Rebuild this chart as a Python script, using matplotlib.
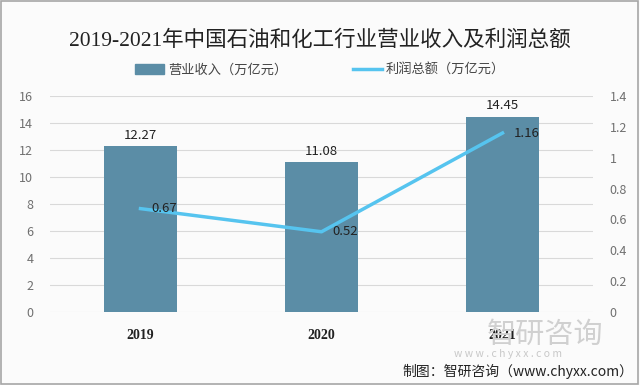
import matplotlib
matplotlib.use("Agg")
from matplotlib import pyplot as plt
from matplotlib.lines import Line2D
from matplotlib.patches import Patch, Rectangle

plt.rcParams['font.family'] = ['Noto Sans CJK SC', 'DejaVu Sans']

years = ['2019', '2020', '2021']
revenue = [12.27, 11.08, 14.45]   # 营业收入（万亿元）
profit = [0.67, 0.52, 1.16]       # 利润总额（万亿元）

bar_color = '#5b8da6'
line_color = '#56c4ef'

fig = plt.figure(figsize=(6.4, 3.85), dpi=100)
fig.patch.set_facecolor('#fbfbfb')
# outer frame
fig.patches.append(Rectangle((0.002, 0.003), 0.995, 0.994, transform=fig.transFigure,
                             fill=False, edgecolor='#a6a6a6', linewidth=1.2))

ax = fig.add_axes([50/640, 1 - 312/385, 543/640, 216/385])
ax.set_facecolor('#fbfbfb')
x = range(len(years))
ax.bar(x, revenue, width=0.4, color=bar_color, zorder=2)
ax.set_ylim(0, 16)
ax.set_xlim(-0.5, 2.5)
ax.set_yticks(range(0, 17, 2))
ax.grid(axis='y', color='#d9d9d9', linewidth=0.8, zorder=0)
ax.set_xticks(list(x))
ax.set_xticklabels(years, fontweight='bold', fontsize=10, color='#222222',
                   family=['Liberation Serif', 'Noto Sans CJK SC'])
ax.tick_params(axis='y', labelsize=9, colors='#707070', length=0, pad=12)
ax.tick_params(axis='x', length=0, pad=12)
for s in ax.spines.values():
    s.set_visible(False)
for i, v in enumerate(revenue):
    ax.text(i, v + 0.35, f'{v:.2f}', ha='center', va='bottom', fontsize=9.5, color='#222222')

ax2 = ax.twinx()
ax2.plot(list(x), profit, color=line_color, linewidth=2.5, zorder=3)
ax2.set_ylim(0, 1.4)
ax2.set_yticks([0, 0.2, 0.4, 0.6, 0.8, 1, 1.2, 1.4])
ax2.set_yticklabels(['0', '0.2', '0.4', '0.6', '0.8', '1', '1.2', '1.4'])
ax2.tick_params(axis='y', labelsize=9, colors='#707070', length=0, pad=12)
for s in ax2.spines.values():
    s.set_visible(False)
for i, v in enumerate(profit):
    ax2.text(i + 0.06, v, f'{v:.2f}', ha='left', va='center', fontsize=9.5, color='#222222', zorder=4)

fig.text(0.5, 1 - 40/385, '2019-2021年中国石油和化工行业营业收入及利润总额',
         ha='center', va='center', fontsize=15.5, fontweight='medium', color='#222222',
         family=['Liberation Serif', 'Noto Sans CJK SC'])

handles = [Patch(color=bar_color), Line2D([0], [0], color=line_color, linewidth=2.5)]
fig.legend(handles, ['营业收入（万亿元）', '利润总额（万亿元）'], loc='center',
           bbox_to_anchor=(0.5, 1 - 70/385), ncol=2, frameon=False, fontsize=9.5,
           handlelength=2.2, columnspacing=5, handletextpad=0.3, labelcolor='#444444')

# watermark
fig.text(0.76, 1 - 335/385, '智研咨询', ha='left', va='center', fontsize=21, color='#d0d0d0', zorder=0)
fig.text(0.71, 1 - 354/385, 'w w w . c h y x x . c o m', ha='left', va='center', fontsize=7.5, color='#c8c8c8')
fig.text(0.99, 1 - 371/385, '制图：智研咨询（www.chyxx.com）', ha='right', va='center',
         fontsize=10, color='#222222')

fig.savefig('out.png', dpi=100, facecolor=fig.get_facecolor())
